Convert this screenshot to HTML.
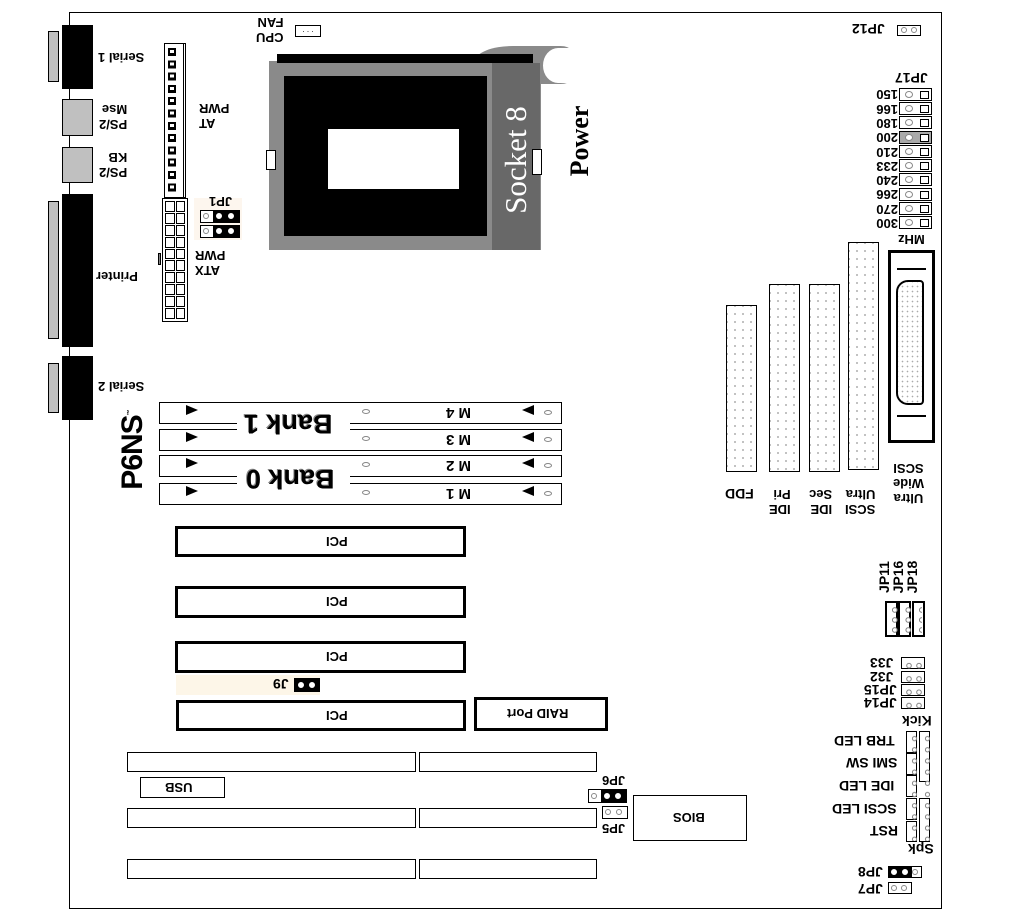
<!DOCTYPE html>
<html><head><meta charset="utf-8"><style>
*{margin:0;padding:0;box-sizing:border-box}
body{width:1019px;height:912px;background:#fff;position:relative;overflow:hidden;font-family:"Liberation Sans",sans-serif;font-weight:bold;color:#000}
div{position:absolute}
.r{transform:rotate(180deg);white-space:nowrap;line-height:1;font-weight:bold}
.b{border:1px solid #000;background:#fff}
.bk{background:#000}
.g{background:#c0c0c0;border:1px solid #000}
.pc{border:3px solid #000;background:#fff}
.t{font-size:13px}
.pin{border:1px solid #888;border-radius:50%;width:6px;height:6px;background:#fff}
.grid{display:grid;gap:1px}
.grid span{display:block;border:1px solid #000;background:#fff}
.row{position:absolute;left:899px;width:33px;height:13px;border:1px solid #000;background:#fff}
.row i{position:absolute;left:5px;top:2px;width:8px;height:7px;border:1px solid #888;border-radius:50%}
.row b{position:absolute;left:20px;top:2px;width:9px;height:8px;border:1px solid #000}
</style></head><body>
<div style="left:69px;top:12px;width:873px;height:897px;border:1px solid #000"></div>

<!-- left ports -->
<div class="bk" style="left:62px;top:25px;width:31px;height:64px"></div>
<div class="g" style="left:48px;top:31px;width:11px;height:51px"></div>
<div class="g" style="left:62px;top:99px;width:31px;height:37px"></div>
<div class="g" style="left:62px;top:147px;width:31px;height:36px"></div>
<div class="bk" style="left:62px;top:194px;width:31px;height:153px"></div>
<div class="g" style="left:48px;top:201px;width:11px;height:138px"></div>
<div class="bk" style="left:62px;top:356px;width:31px;height:64px"></div>
<div class="g" style="left:48px;top:363px;width:11px;height:50px"></div>
<div class="r t" style="left:98px;top:51px">Serial 1</div>
<div class="r t" style="left:99px;top:102px;text-align:left;line-height:15px">PS/2<br>Mse</div>
<div class="r t" style="left:99px;top:150px;text-align:left;line-height:15px">PS/2<br>KB</div>
<div class="r t" style="left:96px;top:270px">Printer</div>
<div class="r t" style="left:98px;top:380px">Serial 2</div>

<!-- AT PWR -->
<div class="b" style="left:164px;top:43px;width:22px;height:155px"></div>
<div style="left:183px;top:43px;width:1px;height:155px;background:#000"></div>
<div style="left:168px;top:48px;width:8px;height:146px;background:repeating-linear-gradient(#000 0 8px,#fff 8px 12.3px)"></div>
<div style="left:170px;top:50px;width:4px;height:146px;background:repeating-linear-gradient(#fff 0 3px,transparent 3px 12.3px)"></div>
<div class="b grid" style="left:162px;top:198px;width:26px;height:124px;padding:2px;grid-template-columns:1fr 1fr;grid-template-rows:repeat(10,1fr)">
<span></span><span></span><span></span><span></span><span></span><span></span><span></span><span></span><span></span><span></span><span></span><span></span><span></span><span></span><span></span><span></span><span></span><span></span><span></span><span></span></div>
<div style="left:158px;top:253px;width:3px;height:12px;background:#888;border:1px solid #000"></div>
<div class="r t" style="left:199px;top:101px;text-align:right;line-height:15px">AT<br>PWR</div>
<div class="r t" style="left:195px;top:248px;text-align:right;line-height:15px">ATX<br>PWR</div>
<div style="left:194px;top:198px;width:48px;height:42px;background:#fdf6ee"></div>
<div class="r t" style="left:209px;top:195px;position:absolute">JP1</div>
<div class="b" style="left:200px;top:210px;width:40px;height:13px;background:linear-gradient(90deg,#fff 0 12px,#000 12px)"></div>
<div class="b" style="left:200px;top:225px;width:40px;height:13px;background:linear-gradient(90deg,#fff 0 12px,#000 12px)"></div>
<div class="pin" style="left:203px;top:213px"></div><div class="pin" style="left:216px;top:213px;border-color:#fff"></div><div class="pin" style="left:228px;top:213px;border-color:#fff"></div>
<div class="pin" style="left:203px;top:228px"></div><div class="pin" style="left:216px;top:228px;border-color:#fff"></div><div class="pin" style="left:228px;top:228px;border-color:#fff"></div>

<!-- CPU FAN -->
<div class="r t" style="left:256px;top:15px;text-align:left;line-height:15px">CPU<br>FAN</div>
<div class="b" style="left:295px;top:25px;width:26px;height:12px;font-size:8px;text-align:center;line-height:8px;font-weight:normal">. . .</div>

<!-- Socket -->
<div style="left:475px;top:46px;width:95px;height:38px;background:#8a8a8a;border-radius:40% 10% 10% 40%"></div>
<div style="left:543px;top:48px;width:30px;height:35px;background:#fff;border-radius:50% 0 0 50%"></div>
<div style="left:269px;top:61px;width:272px;height:189px;background:#8a8a8a"></div>
<div style="left:492px;top:63px;width:48px;height:187px;background:#686868"></div>
<div class="bk" style="left:277px;top:54px;width:256px;height:9px"></div>
<div class="bk" style="left:284px;top:76px;width:203px;height:160px"></div>
<div style="left:328px;top:129px;width:131px;height:60px;background:#fff"></div>
<div class="b" style="left:266px;top:150px;width:10px;height:20px"></div>
<div class="b" style="left:532px;top:149px;width:10px;height:26px"></div>
<div style="left:450px;top:140px;width:132px;height:40px;transform:rotate(-90deg);color:#fff;font-family:'Liberation Serif',serif;font-weight:normal;font-size:31px;text-align:center;line-height:40px;white-space:nowrap">Socket 8</div>
<div style="left:535px;top:128px;width:90px;height:26px;transform:rotate(-90deg);font-family:'Liberation Serif',serif;font-weight:bold;font-size:26px;text-align:center;line-height:26px">Power</div>

<!-- JP12 -->
<div class="r" style="left:852px;top:22px;font-size:14px">JP12</div>
<div class="b" style="left:897px;top:25px;width:24px;height:11px"></div>
<div class="pin" style="left:901px;top:27px"></div><div class="pin" style="left:911px;top:27px"></div>

<!-- JP17 -->
<div class="r" style="left:895px;top:71px;font-size:14px">JP17</div>
<div class="r" style="left:870px;top:87px;font-size:13px;line-height:14.3px;text-align:left;width:28px">300<br>270<br>266<br>240<br>233<br>210<br>200<br>180<br>166<br>150</div>
<div class="row" style="top:88px"><i></i><b></b></div>
<div class="row" style="top:102px"><i></i><b></b></div>
<div class="row" style="top:116px"><i></i><b></b></div>
<div class="row" style="top:131px;background:#aaa"><i style="background:#fff"></i><b style="background:#fff"></b></div>
<div class="row" style="top:145px"><i></i><b></b></div>
<div class="row" style="top:159px"><i></i><b></b></div>
<div class="row" style="top:173px"><i></i><b></b></div>
<div class="row" style="top:188px"><i></i><b></b></div>
<div class="row" style="top:202px"><i></i><b></b></div>
<div class="row" style="top:216px"><i></i><b></b></div>
<div class="r t" style="left:898px;top:233px">MHz</div>

<!-- Ultra wide SCSI -->
<div style="left:888px;top:250px;width:47px;height:193px;border:3px solid #000;background:#fff"></div>
<div class="bk" style="left:897px;top:268px;width:29px;height:2px"></div>
<div class="bk" style="left:897px;top:415px;width:29px;height:2px"></div>
<div style="left:896px;top:280px;width:28px;height:125px;border:2px solid #000;border-radius:12px 4px 4px 12px;background:radial-gradient(circle,#aaa 0.6px,transparent 1px) 2px 2px/5px 5px,#fff"></div>
<div class="r t" style="left:893px;top:461px;text-align:center;line-height:15px">Ultra<br>Wide<br>SCSI</div>

<!-- IDE slots -->
<div class="b" style="left:726px;top:305px;width:31px;height:167px;background:radial-gradient(circle,#888 0.6px,transparent 1px) 4px 4px/8px 8px,#fff"></div>
<div class="b" style="left:769px;top:284px;width:31px;height:188px;background:radial-gradient(circle,#888 0.6px,transparent 1px) 4px 4px/8px 8px,#fff"></div>
<div class="b" style="left:809px;top:284px;width:31px;height:188px;background:radial-gradient(circle,#888 0.6px,transparent 1px) 4px 4px/8px 8px,#fff"></div>
<div class="b" style="left:848px;top:242px;width:31px;height:228px;background:radial-gradient(circle,#888 0.6px,transparent 1px) 4px 4px/8px 8px,#fff"></div>
<div class="r" style="left:725px;top:487px;font-size:14px">FDD</div>
<div class="r t" style="left:769px;top:487px;line-height:15px;text-align:left">IDE<br>Pri</div>
<div class="r t" style="left:809px;top:487px;line-height:15px;text-align:left">IDE<br>Sec</div>
<div class="r t" style="left:845px;top:487px;line-height:15px;text-align:left">SCSI<br>Ultra</div>

<!-- Memory -->
<div class="b" style="left:159px;top:402px;width:403px;height:22px"></div>
<div class="b" style="left:159px;top:429px;width:403px;height:22px"></div>
<div class="b" style="left:159px;top:455px;width:403px;height:22px"></div>
<div class="b" style="left:159px;top:483px;width:403px;height:22px"></div>
<div style="left:237px;top:405px;width:113px;height:42px;background:#fff"></div>
<div style="left:237px;top:460px;width:113px;height:42px;background:#fff"></div>
<div class="r" style="left:244px;top:410px;font-size:27px;text-shadow:1px 1px 0 #888">Bank 1</div>
<div class="r" style="left:246px;top:465px;font-size:27px;text-shadow:1px 1px 0 #888">Bank 0</div>
<div class="r" style="left:446px;top:405px;font-size:15px">M 4</div>
<div class="r" style="left:446px;top:432px;font-size:15px">M 3</div>
<div class="r" style="left:446px;top:458px;font-size:15px">M 2</div>
<div class="r" style="left:446px;top:486px;font-size:15px">M 1</div>
<div style="left:186px;top:405px;border-left:12px solid #000;border-top:5px solid transparent;border-bottom:5px solid transparent"></div>
<div style="left:186px;top:432px;border-left:12px solid #000;border-top:5px solid transparent;border-bottom:5px solid transparent"></div>
<div style="left:186px;top:458px;border-left:12px solid #000;border-top:5px solid transparent;border-bottom:5px solid transparent"></div>
<div style="left:186px;top:486px;border-left:12px solid #000;border-top:5px solid transparent;border-bottom:5px solid transparent"></div>
<div style="left:522px;top:405px;border-right:12px solid #000;border-top:5px solid transparent;border-bottom:5px solid transparent"></div>
<div style="left:522px;top:432px;border-right:12px solid #000;border-top:5px solid transparent;border-bottom:5px solid transparent"></div>
<div style="left:522px;top:458px;border-right:12px solid #000;border-top:5px solid transparent;border-bottom:5px solid transparent"></div>
<div style="left:522px;top:486px;border-right:12px solid #000;border-top:5px solid transparent;border-bottom:5px solid transparent"></div>
<div class="pin" style="left:362px;top:409px;width:8px;height:5px"></div><div class="pin" style="left:544px;top:410px;width:8px;height:5px"></div>
<div class="pin" style="left:362px;top:436px;width:8px;height:5px"></div><div class="pin" style="left:544px;top:437px;width:8px;height:5px"></div>
<div class="pin" style="left:362px;top:462px;width:8px;height:5px"></div><div class="pin" style="left:544px;top:463px;width:8px;height:5px"></div>
<div class="pin" style="left:362px;top:490px;width:8px;height:5px"></div><div class="pin" style="left:544px;top:491px;width:8px;height:5px"></div>
<div style="left:80px;top:435px;width:100px;height:30px;transform:rotate(-90deg);font-size:30px;line-height:30px;text-align:center;letter-spacing:-1px">P6NS<sup style="font-size:6px">™</sup></div>

<!-- PCI -->
<div class="pc" style="left:175px;top:526px;width:291px;height:31px"></div>
<div class="pc" style="left:175px;top:586px;width:291px;height:32px"></div>
<div class="pc" style="left:175px;top:641px;width:291px;height:32px"></div>
<div class="pc" style="left:176px;top:700px;width:290px;height:31px"></div>
<div class="pc" style="left:474px;top:697px;width:134px;height:34px"></div>
<div class="r t" style="left:326px;top:535px">PCI</div>
<div class="r t" style="left:326px;top:595px">PCI</div>
<div class="r t" style="left:326px;top:650px">PCI</div>
<div class="r t" style="left:326px;top:709px">PCI</div>
<div class="r t" style="left:507px;top:707px">RAID Port</div>
<div style="left:176px;top:675px;width:144px;height:20px;background:#fdf6e8"></div>
<div class="r" style="left:273px;top:677px;font-size:14px">J9</div>
<div class="bk" style="left:294px;top:678px;width:26px;height:14px"></div>
<div class="pin" style="left:298px;top:682px;border-color:#fff"></div><div class="pin" style="left:309px;top:682px;border-color:#fff"></div>

<!-- ISA -->
<div class="b" style="left:127px;top:752px;width:289px;height:20px"></div>
<div class="b" style="left:419px;top:752px;width:178px;height:20px"></div>
<div class="b" style="left:127px;top:808px;width:289px;height:20px"></div>
<div class="b" style="left:419px;top:808px;width:178px;height:20px"></div>
<div class="b" style="left:127px;top:859px;width:289px;height:20px"></div>
<div class="b" style="left:419px;top:859px;width:178px;height:20px"></div>
<div class="b" style="left:140px;top:777px;width:85px;height:21px"></div>
<div class="r t" style="left:165px;top:781px">USB</div>

<!-- JP6 / JP5 / BIOS -->
<div class="r t" style="left:602px;top:774px">JP6</div>
<div class="b" style="left:588px;top:789px;width:39px;height:14px;background:linear-gradient(90deg,#fff 0 12px,#000 12px)"></div>
<div class="pin" style="left:591px;top:793px"></div><div class="pin" style="left:604px;top:793px;border-color:#fff"></div><div class="pin" style="left:615px;top:793px;border-color:#fff"></div>
<div class="b" style="left:602px;top:806px;width:26px;height:13px"></div>
<div class="pin" style="left:605px;top:809px"></div><div class="pin" style="left:616px;top:809px"></div>
<div class="r t" style="left:602px;top:822px">JP5</div>
<div class="b" style="left:633px;top:795px;width:114px;height:46px"></div>
<div class="r t" style="left:673px;top:811px">BIOS</div>

<!-- JP11/16/18 -->
<div style="left:864px;top:570px;width:40px;height:14px;transform:rotate(-90deg);font-size:14px;line-height:14px;text-align:center">JP11</div>
<div style="left:878px;top:570px;width:40px;height:14px;transform:rotate(-90deg);font-size:14px;line-height:14px;text-align:center">JP16</div>
<div style="left:892px;top:570px;width:40px;height:14px;transform:rotate(-90deg);font-size:14px;line-height:14px;text-align:center">JP18</div>
<div class="b" style="left:885px;top:601px;width:13px;height:36px;border-width:2px"></div>
<div class="b" style="left:898px;top:601px;width:13px;height:36px;border-width:2px"></div>
<div class="b" style="left:912px;top:601px;width:13px;height:36px;border-width:2px"></div>
<div style="left:888px;top:605px;width:34px;height:30px;background:radial-gradient(circle,#fff 1.6px,#888 2px,#888 2.6px,transparent 3px) 0 0/13.5px 10px"></div>

<!-- J33..JP14 -->
<div class="r" style="left:870px;top:656px;font-size:14px">J33</div>
<div class="r" style="left:870px;top:670px;font-size:14px">J32</div>
<div class="r" style="left:864px;top:683px;font-size:14px">JP15</div>
<div class="r" style="left:864px;top:696px;font-size:14px">JP14</div>
<div class="b" style="left:901px;top:657px;width:24px;height:12px"></div>
<div class="b" style="left:901px;top:671px;width:24px;height:12px"></div>
<div class="b" style="left:901px;top:684px;width:24px;height:12px"></div>
<div class="b" style="left:901px;top:697px;width:24px;height:12px"></div>
<div style="left:904px;top:659px;width:20px;height:52px;background:radial-gradient(circle,#fff 1.6px,#888 2px,#888 2.6px,transparent 3px) 0 0/10px 13.3px"></div>

<!-- front panel -->
<div class="r" style="left:902px;top:714px;font-size:14px">Kick</div>
<div class="b" style="left:906px;top:731px;width:11px;height:22px"></div>
<div class="b" style="left:906px;top:753px;width:11px;height:22px"></div>
<div class="b" style="left:906px;top:775px;width:11px;height:22px"></div>
<div class="b" style="left:906px;top:798px;width:11px;height:22px"></div>
<div class="b" style="left:906px;top:821px;width:11px;height:21px"></div>
<div class="b" style="left:919px;top:731px;width:11px;height:51px"></div>
<div class="b" style="left:919px;top:798px;width:11px;height:44px"></div>
<div style="left:908px;top:733px;width:22px;height:108px;background:radial-gradient(circle,#fff 1.4px,#888 1.8px,#888 2.4px,transparent 2.8px) 0 0/13px 11.2px"></div>
<div class="r" style="left:834px;top:734px;font-size:14px">TRB LED</div>
<div class="r" style="left:846px;top:756px;font-size:14px">SMI SW</div>
<div class="r" style="left:839px;top:779px;font-size:14px">IDE LED</div>
<div class="r" style="left:832px;top:802px;font-size:14px">SCSI LED</div>
<div class="r" style="left:870px;top:824px;font-size:14px">RST</div>
<div class="r" style="left:908px;top:842px;font-size:14px">Spk</div>

<div class="r" style="left:858px;top:865px;font-size:14px">JP8</div>
<div class="b" style="left:888px;top:866px;width:34px;height:12px;background:linear-gradient(90deg,#000 0 23px,#fff 23px)"></div>
<div class="pin" style="left:891px;top:869px;border-color:#fff"></div><div class="pin" style="left:902px;top:869px;border-color:#fff"></div><div class="pin" style="left:912px;top:869px"></div>
<div class="r" style="left:858px;top:882px;font-size:14px">JP7</div>
<div class="b" style="left:888px;top:882px;width:24px;height:12px"></div>
<div class="pin" style="left:891px;top:885px"></div><div class="pin" style="left:901px;top:885px"></div>
</body></html>
